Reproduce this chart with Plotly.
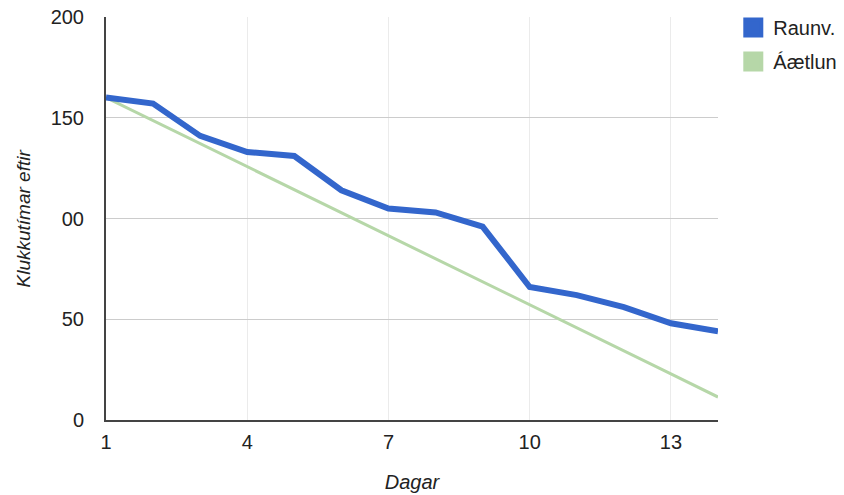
import plotly.graph_objects as go

days = list(range(1, 15))
raunv = [160, 157, 141, 133, 131, 114, 105, 103, 96, 66, 62, 56, 48, 44]
aaetlun = [160, 148.6, 137.1, 125.7, 114.3, 102.9, 91.4, 80, 68.6, 57.1, 45.7, 34.3, 22.9, 11.4]
x_ticks = [1, 4, 7, 10, 13]
y_ticks = [0, 50, 100, 150, 200]
y_ticktext = ["0", "50", "00", "150", "200"]

blue = "#3366CC"
green = "#B6D7A8"
font = "Liberation Sans, Arial, sans-serif"

fig = go.Figure()
fig.add_trace(go.Scatter(x=days, y=aaetlun, mode="lines", line=dict(color=green, width=3),
                         showlegend=False, hoverinfo="skip"))
fig.add_trace(go.Scatter(x=days, y=raunv, mode="lines", line=dict(color=blue, width=6),
                         showlegend=False))
fig.add_trace(go.Scatter(x=[None], y=[None], mode="markers", name="Raunv.", legendgroup="a",
                         marker=dict(symbol="square", size=16, color=blue,
                                     line=dict(color=blue, width=4))))
fig.add_trace(go.Scatter(x=[None], y=[None], mode="markers", name="Áætlun", legendgroup="b",
                         marker=dict(symbol="square", size=16, color=green,
                                     line=dict(color=green, width=4))))

fig.update_layout(
    width=844, height=495,
    margin=dict(l=106, r=126, t=17, b=75, autoexpand=False),
    paper_bgcolor="white", plot_bgcolor="white",
    font=dict(family=font, size=20, color="#222"),
    legend=dict(x=1.025, xanchor="left", y=1 - 8 / 495, yref="container", yanchor="top",
                font=dict(size=20, color="#222"), itemsizing="trace",
                tracegroupgap=5, itemwidth=30),
    xaxis=dict(range=[1, 14], tickvals=x_ticks, showgrid=True, gridcolor="#ebebeb",
               gridwidth=1, zeroline=False, showline=True, linecolor="#444", linewidth=2,
               ticks="", ticklabelstandoff=3, tickfont=dict(size=20, color="#222"),
               automargin=False,
               title=dict(text="<i>Dagar</i>", font=dict(size=20, color="#222"), standoff=23)),
    yaxis=dict(range=[0, 200], tickvals=y_ticks, ticktext=y_ticktext, showgrid=True,
               gridcolor="#cccccc", gridwidth=1, zeroline=False, showline=True,
               linecolor="#444", linewidth=2, ticks="", ticklabelstandoff=16,
               tickfont=dict(size=20, color="#222"), automargin=False),
    annotations=[dict(text="<i>Klukkutímar eftir</i>", xref="paper", yref="paper",
                      x=-(106 - 23) / 612, y=0.5, xanchor="center", yanchor="middle",
                      textangle=-90, showarrow=False,
                      font=dict(size=19, color="#222", family=font))],
)

fig.write_html("out.html")
